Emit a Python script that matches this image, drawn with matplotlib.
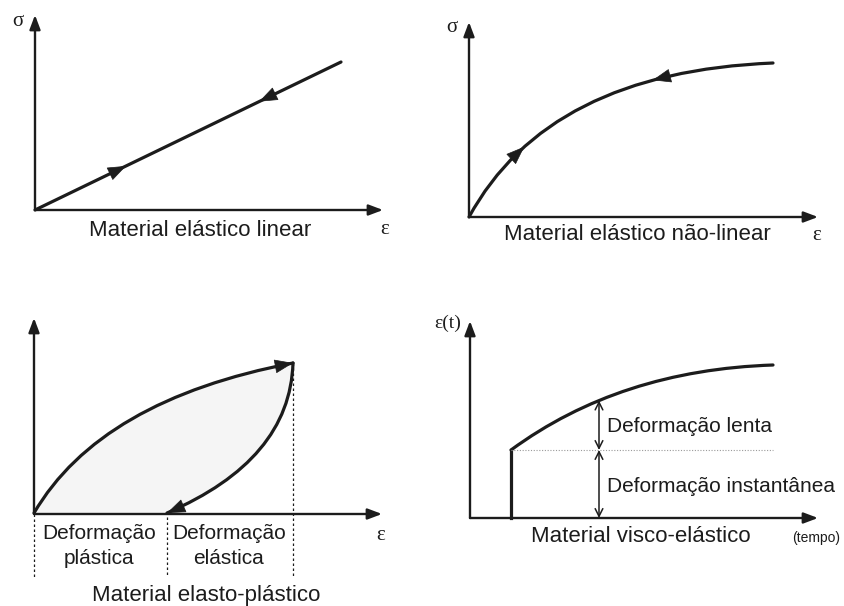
import numpy as np
import matplotlib
matplotlib.use("Agg")
import matplotlib.pyplot as plt
from matplotlib.path import Path
from matplotlib.patches import PathPatch

# everything below is in picture pixels (x right, y down)

# panel 1 - linear elastic
lin_x = [35, 341]
lin_y = [210, 62]
lin_arrow_t = [0.28, 0.75]          # forward, backward

# panel 2 - non linear elastic (quadratic bezier: start, control, end)
nl_x = [469, 548, 773]
nl_y = [217, 72, 63]
nl_arrow_t = [0.26, 0.72]

# panel 3 - elasto-plastic loading / unloading
up_x = [34, 100, 293]
up_y = [513, 400, 363]
down_x = [293, 290, 167]
down_y = [363, 460, 513]
split_x = [34, 167, 293]

# panel 4 - visco-elastic
step_x = 511
step_y = [518, 450]
creep_x = [511, 620, 773]
creep_y = [450, 370, 365]
marker_x = 599

# axes: origin and arrow tip
axes_origin = [(35, 210), (469, 217), (34, 514), (470, 518)]
axes_xtip = [383, 818, 382, 818]
axes_ytip = [15, 22, 318, 321]

INK = "#1c1c1c"
SANS = ["Liberation Sans", "DejaVu Sans"]
SERIF = ["Liberation Serif", "DejaVu Serif"]


def bez(xs, ys, t):
    p = np.array([xs, ys], dtype=float).T
    pt = (1 - t) ** 2 * p[0] + 2 * (1 - t) * t * p[1] + t ** 2 * p[2]
    d = 2 * (1 - t) * (p[1] - p[0]) + 2 * t * (p[2] - p[1])
    return pt, d / np.hypot(*d)


def curve(ax, xs, ys, lw=2.3):
    path = Path(list(zip(xs, ys)), [Path.MOVETO, Path.CURVE3, Path.CURVE3])
    ax.add_patch(PathPatch(path, fc="none", ec=INK, lw=lw, capstyle="round"))


def head(ax, pt, u, size=27, back=False):
    if back:
        u = -u
    ax.annotate("", xy=pt + u * 6, xytext=pt - u * 6,
                arrowprops=dict(arrowstyle="-|>,head_length=0.45,head_width=0.17",
                                mutation_scale=size, color=INK, lw=0.5,
                                shrinkA=0, shrinkB=0))


def axis_arrow(ax, start, end):
    ax.annotate("", xy=end, xytext=start,
                arrowprops=dict(arrowstyle="-|>,head_length=0.45,head_width=0.17",
                                mutation_scale=19, color=INK, lw=1.7,
                                shrinkA=0, shrinkB=0))


fig = plt.figure(figsize=(8.45, 6.06), dpi=100)
ax = fig.add_axes([0, 0, 1, 1])
ax.set_xlim(0, 845)
ax.set_ylim(606, 0)
ax.axis("off")

# shaded area of the elasto-plastic loop (drawn first, under everything)
loop = Path([(up_x[0], up_y[0]), (up_x[1], up_y[1]), (up_x[2], up_y[2]),
             (down_x[1], down_y[1]), (down_x[2], down_y[2]),
             (up_x[0], up_y[0]), (up_x[0], up_y[0])],
            [Path.MOVETO, Path.CURVE3, Path.CURVE3, Path.CURVE3, Path.CURVE3,
             Path.LINETO, Path.CLOSEPOLY])
ax.add_patch(PathPatch(loop, fc="#f5f5f5", ec="none"))

for (ox, oy), xt, yt in zip(axes_origin, axes_xtip, axes_ytip):
    axis_arrow(ax, (ox, oy), (xt, oy))
    axis_arrow(ax, (ox, oy), (ox, yt))

# panel 1
ax.plot(lin_x, lin_y, color=INK, lw=2.3, solid_capstyle="round")
p0 = np.array([lin_x[0], lin_y[0]], float)
p1 = np.array([lin_x[1], lin_y[1]], float)
u = (p1 - p0) / np.hypot(*(p1 - p0))
head(ax, p0 + (p1 - p0) * lin_arrow_t[0], u)
head(ax, p0 + (p1 - p0) * lin_arrow_t[1], u, back=True)
ax.text(18, 22, "σ", fontsize=15, family=SERIF, ha="center", va="center", color=INK)
ax.text(385, 229, "ε", fontsize=15, family=SERIF, ha="center", va="center", color=INK)
ax.text(200, 230, "Material elástico linear", fontsize=16, family=SANS,
        ha="center", va="center", color=INK)

# panel 2
curve(ax, nl_x, nl_y)
pt, u = bez(nl_x, nl_y, nl_arrow_t[0])
head(ax, pt, u)
pt, u = bez(nl_x, nl_y, nl_arrow_t[1])
head(ax, pt, u, back=True)
ax.text(452, 27, "σ", fontsize=15, family=SERIF, ha="center", va="center", color=INK)
ax.text(817, 236, "ε", fontsize=15, family=SERIF, ha="center", va="center", color=INK)
ax.text(637, 234, "Material elástico não-linear", fontsize=16, family=SANS,
        ha="center", va="center", color=INK)

# panel 3
curve(ax, up_x, up_y)
curve(ax, down_x, down_y)
pt, u = bez(up_x, up_y, 1.0)
head(ax, pt - u * 6, u)
pt, u = bez(down_x, down_y, 1.0)
head(ax, pt - u * 6, u)
ax.plot([split_x[0]] * 2, [514, 577], color=INK, lw=0.9, ls=(0, (2, 2)))
ax.plot([split_x[1]] * 2, [517, 577], color=INK, lw=0.9, ls=(0, (2, 2)))
ax.plot([split_x[2]] * 2, [up_y[2], 577], color=INK, lw=0.9, ls=(0, (2, 2)))
ax.text(99, 546, "Deformação\nplástica", fontsize=15, family=SANS, ha="center",
        va="center", color=INK, linespacing=1.4)
ax.text(229, 546, "Deformação\nelástica", fontsize=15, family=SANS, ha="center",
        va="center", color=INK, linespacing=1.4)
ax.text(381, 535, "ε", fontsize=15, family=SERIF, ha="center", va="center", color=INK)
ax.text(206, 595, "Material elasto-plástico", fontsize=16, family=SANS,
        ha="center", va="center", color=INK)

# panel 4
ax.plot([step_x, step_x], step_y, color=INK, lw=2.3)
curve(ax, creep_x, creep_y)
ax.plot([creep_x[0], creep_x[2]], [creep_y[0]] * 2, color="#9a9a9a", lw=0.8,
        ls=(0, (1, 1.5)))
tt = np.linspace(0, 1, 400)
cx = [bez(creep_x, creep_y, t)[0][0] for t in tt]
cy = [bez(creep_x, creep_y, t)[0][1] for t in tt]
top_y = np.interp(marker_x, cx, cy)
for y0, y1 in [(top_y, creep_y[0]), (creep_y[0], step_y[0])]:
    ax.annotate("", xy=(marker_x, y1), xytext=(marker_x, y0),
                arrowprops=dict(arrowstyle="<->,head_length=0.5,head_width=0.25",
                                mutation_scale=11, color=INK, lw=1.1,
                                shrinkA=0, shrinkB=0))
ax.text(607, 427, "Deformação lenta", fontsize=15, family=SANS, ha="left",
        va="center", color=INK)
ax.text(607, 487, "Deformação instantânea", fontsize=15, family=SANS, ha="left",
        va="center", color=INK)
ax.text(461, 323, "ε(t)", fontsize=14, family=SERIF, ha="right", va="center", color=INK)
ax.text(641, 537, "Material visco-elástico", fontsize=16, family=SANS,
        ha="center", va="center", color=INK)
ax.text(816, 538, "(tempo)", fontsize=10, family=SANS, ha="center", va="center",
        color=INK)

fig.savefig("out.png", dpi=100)
